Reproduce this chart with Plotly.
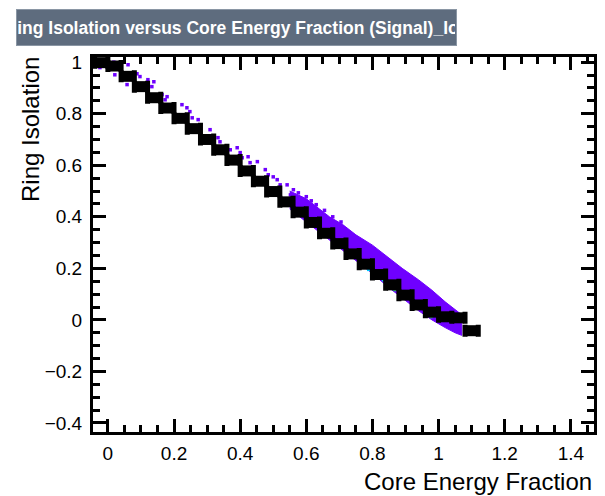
import plotly.graph_objects as go

# Profile of ring isolation in bins of core energy fraction (bin width 0.04)
prof_x = [-0.02, 0.02, 0.06, 0.10, 0.14, 0.18, 0.22, 0.26, 0.30, 0.34,
          0.38, 0.42, 0.46, 0.50, 0.54, 0.58, 0.62, 0.66, 0.70, 0.74,
          0.78, 0.82, 0.86, 0.90, 0.94, 0.98, 1.02, 1.06, 1.10]
prof_y = [0.998, 0.985, 0.945, 0.905, 0.862, 0.822, 0.782, 0.742, 0.700, 0.660,
          0.620, 0.578, 0.538, 0.498, 0.458, 0.418, 0.378, 0.336, 0.296, 0.256,
          0.216, 0.176, 0.136, 0.096, 0.058, 0.030, 0.012, 0.008, -0.042]
prof_halfwidth = 0.02

# Sparse signal entries above the profile at low core fraction
sparse_x = [0.018, 0.061, -0.024, 0.021, 0.088, 0.097, 0.058, 0.121, 0.139, 0.133,
            0.164, 0.179, 0.173, 0.224, 0.239, 0.248, 0.255, 0.273, 0.279, 0.309,
            0.333, 0.339, 0.355, 0.370, 0.391, 0.400, 0.406, 0.424, 0.452, 0.430,
            0.476, 0.485, 0.500, 0.512, 0.521, 0.542, 0.561, 0.576, 0.552, 0.582,
            0.600, 0.615, 0.630, 0.655, 0.680, 0.705]
sparse_y = [1.000, 0.990, 0.979, 0.951, 0.955, 0.944, 0.913, 0.932, 0.924, 0.905,
            0.874, 0.866, 0.854, 0.835, 0.823, 0.808, 0.784, 0.777, 0.757, 0.738,
            0.707, 0.691, 0.672, 0.660, 0.668, 0.649, 0.629, 0.633, 0.614, 0.610,
            0.583, 0.563, 0.555, 0.544, 0.524, 0.524, 0.505, 0.493, 0.485, 0.474,
            0.478, 0.462, 0.447, 0.425, 0.400, 0.380]

# Outline of the densely populated region
band_x = [0.55, 0.60, 0.64, 0.67, 0.71, 0.75, 0.80, 0.85, 0.89, 0.94, 0.98, 1.02, 1.05, 1.07]
band_upper = [0.50, 0.47, 0.43, 0.40, 0.37, 0.33, 0.29, 0.24, 0.20, 0.155, 0.115, 0.07, 0.04, 0.02]
band_lower = [0.43, 0.38, 0.34, 0.31, 0.27, 0.23, 0.18, 0.125, 0.085, 0.035, 0.0, -0.03, -0.05, -0.06]

# Higher-occupancy cells along the lower edge
hot_x = [0.788, 0.833, 0.867, 0.909, 0.942, 0.978]
hot_y = [0.195, 0.155, 0.117, 0.085, 0.047, 0.012]
hot_c = ["#00c8ff", "#00e0e0", "#20d060", "#40c040", "#ff9a00", "#30c070"]

x_ticks = [0, 0.2, 0.4, 0.6, 0.8, 1, 1.2, 1.4]
y_ticks = [-0.4, -0.2, 0, 0.2, 0.4, 0.6, 0.8, 1]

PURPLE = "#6f00ff"

fig = go.Figure()

fig.add_trace(go.Scatter(
    x=band_x + band_x[::-1], y=band_upper + band_lower[::-1],
    fill="toself", fillcolor=PURPLE, mode="lines",
    line=dict(color=PURPLE, width=1), hoverinfo="skip", showlegend=False))

fig.add_trace(go.Scatter(
    x=sparse_x, y=sparse_y, mode="markers",
    marker=dict(symbol="square", size=3.5, color=PURPLE, line=dict(width=0)),
    showlegend=False))

fig.add_trace(go.Scatter(
    x=hot_x, y=hot_y, mode="markers",
    marker=dict(symbol="square", size=3, color=hot_c, line=dict(width=0)),
    showlegend=False))

fig.add_trace(go.Scatter(
    x=prof_x, y=prof_y, mode="markers",
    marker=dict(symbol="square", size=11, color="black", line=dict(width=0)),
    error_x=dict(type="constant", value=prof_halfwidth, color="black",
                 thickness=5, width=6),
    showlegend=False))

font_family = "Liberation Sans, Arial, Helvetica, sans-serif"

axis_common = dict(
    showgrid=False, zeroline=False,
    showline=True, linewidth=3, linecolor="black", mirror="allticks",
    ticks="inside", ticklen=13, tickwidth=3, tickcolor="black",
    tickfont=dict(family=font_family, size=19, color="black"),
    minor=dict(ticks="inside", ticklen=7, tickwidth=3, tickcolor="black", dtick=0.05),
)

fig.update_xaxes(range=[-0.045, 1.47], tickvals=x_ticks, ticklabelstandoff=2, **axis_common)
fig.update_yaxes(range=[-0.435, 1.02], tickvals=y_ticks, ticklabelstandoff=4, **axis_common)

# Title pave: fixed-width box, over-long title is clipped on both sides
title_text = "Ring Isolation versus Core Energy Fraction (Signal)_Io" + "\u00a0" * 2

fig.update_layout(
    width=605, height=496,
    margin=dict(l=93, r=8, t=57, b=64),
    paper_bgcolor="white", plot_bgcolor="white",
    font=dict(family=font_family, color="black"),
    annotations=[
        dict(text=title_text,
             xref="paper", yref="paper", x=0.2867, y=1.0787,
             xanchor="center", yanchor="middle", showarrow=False,
             width=437, height=33, align="center",
             bgcolor="#5e6c7e", bordercolor="#8a96a4", borderwidth=1,
             font=dict(family=font_family, size=17.5, color="white", weight="bold")),
        dict(text="Core Energy Fraction", xref="paper", yref="paper",
             x=1.0, y=-0.133, xanchor="right", yanchor="middle", showarrow=False,
             font=dict(family=font_family, size=24, color="black")),
        dict(text="Ring Isolation", xref="paper", yref="paper",
             x=-0.125, y=1.005, xanchor="center", yanchor="top", showarrow=False,
             textangle=-90,
             font=dict(family=font_family, size=24, color="black")),
    ],
)

fig.write_html("out.html")
